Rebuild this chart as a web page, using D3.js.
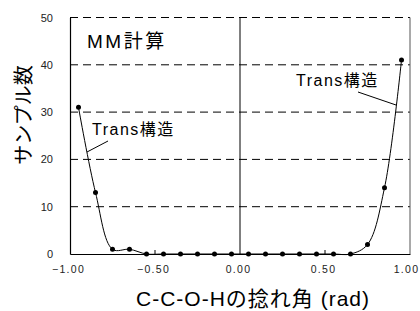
<!DOCTYPE html>
<html>
<head>
<style>
  body { margin: 0; background: #fff; }
  svg { font-family: "Liberation Sans", Arial, "Noto Sans CJK JP", sans-serif; }
</style>
</head>
<body>
<script src="https://d3js.org/d3.v7.min.js"></script>
<div id="chart"></div>
<script>
  // torsion angle (rad) and sample count
  const angles = [-0.95, -0.85, -0.75, -0.65, -0.55, -0.45, -0.35, -0.25, -0.15, -0.05,
                  0.05, 0.15, 0.25, 0.35, 0.45, 0.55, 0.65, 0.75, 0.85, 0.95];
  const counts = [31, 13, 1, 1, 0, 0, 0, 0, 0, 0,
                  0, 0, 0, 0, 0, 0, 0, 2, 14, 41];
  const xTicks = [-1.0, -0.5, 0.0, 0.5, 1.0];
  const yTicks = [0, 10, 20, 30, 40, 50];

  const width = 420, height = 311;
  const margin = {top: 17.5, right: 10, bottom: 57, left: 70};

  const svg = d3.select('#chart').append('svg')
    .attr('width', width)
    .attr('height', height);

  const x = d3.scaleLinear().domain([-1, 1]).range([margin.left, width - margin.right]);
  const y = d3.scaleLinear().domain([0, 50]).range([height - margin.bottom, margin.top]);

  // dashed grid
  svg.append('g')
    .selectAll('line')
    .data(yTicks.filter(d => d > 0))
    .enter().append('line')
    .attr('x1', x(-1)).attr('x2', x(1))
    .attr('y1', d => y(d)).attr('y2', d => y(d))
    .style('stroke', '#000')
    .style('stroke-width', 1)
    .style('stroke-dasharray', '8,5');

  // right border
  svg.append('line')
    .attr('x1', x(1)).attr('x2', x(1))
    .attr('y1', y(0)).attr('y2', y(50))
    .style('stroke', '#555');

  // zero line
  svg.append('line')
    .attr('x1', x(0)).attr('x2', x(0))
    .attr('y1', y(0)).attr('y2', y(50))
    .style('stroke', '#000');

  // axes
  const xAxis = d3.axisBottom(x).tickValues(xTicks).tickSize(0).tickPadding(12)
    .tickFormat(d3.format('.2f'));
  const gx = svg.append('g')
    .attr('transform', `translate(0,${y(0)})`)
    .call(xAxis);
  gx.select('.domain').style('stroke', '#000').style('stroke-width', 1.2);
  gx.selectAll('text')
    .attr('dx', d => d === 1 ? -4 : -2)
    .style('font-size', '10.5px')
    .style('letter-spacing', '1.3px')
    .style('fill', '#222');

  // small inner ticks at +-0.5
  svg.append('g')
    .selectAll('line')
    .data([-0.5, 0.5])
    .enter().append('line')
    .attr('x1', d => x(d)).attr('x2', d => x(d))
    .attr('y1', y(0)).attr('y2', y(0) - 4)
    .style('stroke', '#000');

  const yAxis = d3.axisLeft(y).tickValues(yTicks).tickSize(0).tickPadding(17);
  const gy = svg.append('g')
    .attr('transform', `translate(${x(-1)},0)`)
    .call(yAxis);
  gy.select('.domain').style('stroke', '#000').style('stroke-width', 1.2);
  gy.selectAll('text')
    .style('font-size', '11px')
    .style('fill', '#222');

  // curve
  const pts = angles.map((a, i) => [a, counts[i]]);
  const line = d3.line()
    .x(d => x(d[0]))
    .y(d => y(d[1]))
    .curve(d3.curveCatmullRom.alpha(0.5));
  svg.append('path')
    .datum(pts)
    .attr('d', line)
    .style('fill', 'none')
    .style('stroke', '#000')
    .style('stroke-width', 1);

  svg.append('g')
    .selectAll('circle')
    .data(pts)
    .enter().append('circle')
    .attr('cx', d => x(d[0]))
    .attr('cy', d => y(d[1]))
    .attr('r', 2.5)
    .style('fill', '#000');

  // annotations
  svg.append('text')
    .attr('x', 87).attr('y', 48)
    .style('font-size', '19px')
    .style('letter-spacing', '2.5px')
    .text('MM計算');

  svg.append('text')
    .attr('x', 92).attr('y', 135)
    .style('font-size', '16px')
    .style('letter-spacing', '1.5px')
    .text('Trans構造');
  svg.append('line')
    .attr('x1', 108).attr('y1', 141)
    .attr('x2', 87).attr('y2', 152)
    .style('stroke', '#000');

  svg.append('text')
    .attr('x', 296).attr('y', 86)
    .style('font-size', '16px')
    .style('letter-spacing', '1.5px')
    .text('Trans構造');
  svg.append('line')
    .attr('x1', 358).attr('y1', 92)
    .attr('x2', 396).attr('y2', 105)
    .style('stroke', '#000');

  // axis titles
  svg.append('text')
    .attr('transform', `translate(31,115) rotate(-90)`)
    .attr('text-anchor', 'middle')
    .style('font-size', '20px')
    .text('サンプル数');

  svg.append('text')
    .attr('x', 253).attr('y', 306)
    .attr('text-anchor', 'middle')
    .style('font-size', '21px')
    .style('letter-spacing', '1px')
    .text('C-C-O-Hの捻れ角 (rad)');
</script>
</body>
</html>
